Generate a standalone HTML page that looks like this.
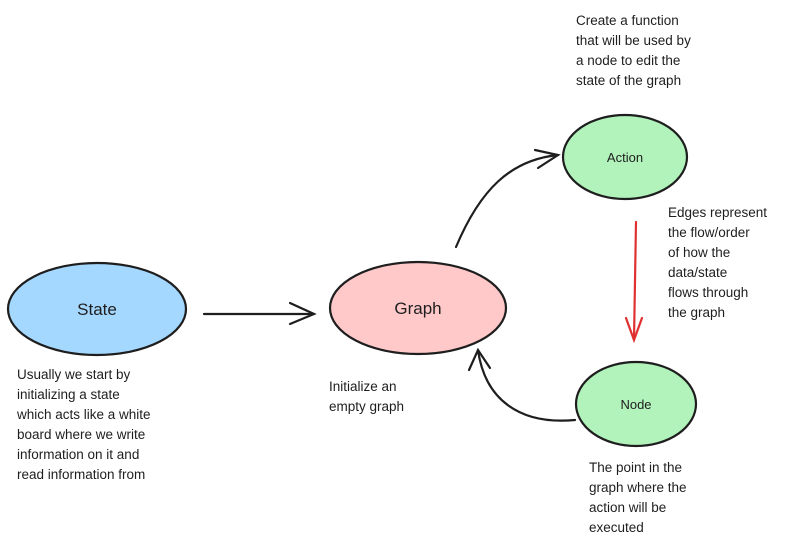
<!DOCTYPE html>
<html><head><meta charset="utf-8"><style>
body{margin:0;background:#fff;width:812px;height:547px;overflow:hidden}
svg{display:block}
text{font-family:"Liberation Sans",sans-serif;fill:#1e1e1e}
.t{font-size:13.5px}
</style></head><body>
<svg width="812" height="547" viewBox="0 0 812 547">
<g stroke="#1e1e1e" stroke-width="2.2">
<ellipse cx="97" cy="309" rx="89" ry="46" fill="#a5d8ff"/>
<ellipse cx="418" cy="308" rx="88" ry="46" fill="#ffc9c9"/>
<ellipse cx="625" cy="157" rx="62" ry="42" fill="#b2f2bb"/>
<ellipse cx="636" cy="404" rx="60" ry="42" fill="#b2f2bb"/>
</g>
<g stroke="#1e1e1e" stroke-width="2.2" fill="none" stroke-linecap="round">
<path d="M204 314 L314 314"/><path d="M290 303 L314 314 L290 324"/>
<path d="M456 247 C480 190 510 160 558 155"/><path d="M535 150 L558 155 L538 168"/>
<path d="M575 420 C520 425 485 400 478 350"/><path d="M469 370 L478 350 L490 368"/>
</g>
<g stroke="#e03131" stroke-width="2.2" fill="none" stroke-linecap="round">
<path d="M636 222 L634 340"/><path d="M626 318 L634 340 L642 318"/>
</g>
<text x="97" y="315" font-size="17" text-anchor="middle">State</text>
<text x="418" y="314" font-size="17" text-anchor="middle">Graph</text>
<text x="625" y="162" font-size="13" text-anchor="middle">Action</text>
<text x="636" y="409" font-size="13" text-anchor="middle">Node</text>
<g class="t">
<text x="576" y="25">Create a function</text>
<text x="576" y="45">that will be used by</text>
<text x="576" y="65">a node to edit the</text>
<text x="576" y="85">state of the graph</text>
<text x="668" y="217">Edges represent</text>
<text x="668" y="237">the flow/order</text>
<text x="668" y="257">of how the</text>
<text x="668" y="277">data/state</text>
<text x="668" y="297">flows through</text>
<text x="668" y="317">the graph</text>
<text x="17" y="379">Usually we start by</text>
<text x="17" y="399">initializing a state</text>
<text x="17" y="419">which acts like a white</text>
<text x="17" y="439">board where we write</text>
<text x="17" y="459">information on it and</text>
<text x="17" y="479">read information from</text>
<text x="329" y="391">Initialize an</text>
<text x="329" y="411">empty graph</text>
<text x="589" y="472">The point in the</text>
<text x="589" y="492">graph where the</text>
<text x="589" y="512">action will be</text>
<text x="589" y="532">executed</text>
</g>
</svg>
</body></html>
